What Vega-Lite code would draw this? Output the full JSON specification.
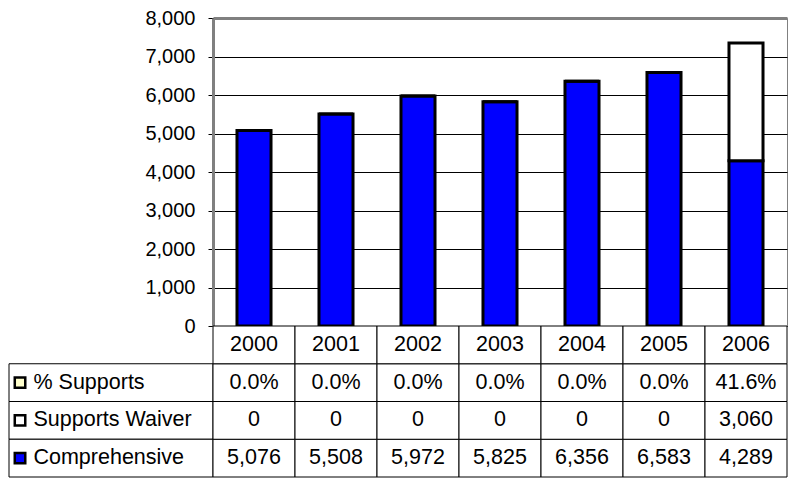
{
  "$schema": "https://vega.github.io/schema/vega-lite/v6.json",
  "padding": {"left": 8, "top": 7, "right": 2, "bottom": 2},
  "background": "white",
  "config": {"view": {"stroke": null}, "font": "Liberation Sans"},
  "datasets": {
    "table": [
      {"year": "2000", "series": "Comprehensive", "value": 5076},
      {"year": "2001", "series": "Comprehensive", "value": 5508},
      {"year": "2002", "series": "Comprehensive", "value": 5972},
      {"year": "2003", "series": "Comprehensive", "value": 5825},
      {"year": "2004", "series": "Comprehensive", "value": 6356},
      {"year": "2005", "series": "Comprehensive", "value": 6583},
      {"year": "2006", "series": "Comprehensive", "value": 4289},
      {"year": "2000", "series": "Supports Waiver", "value": 0},
      {"year": "2001", "series": "Supports Waiver", "value": 0},
      {"year": "2002", "series": "Supports Waiver", "value": 0},
      {"year": "2003", "series": "Supports Waiver", "value": 0},
      {"year": "2004", "series": "Supports Waiver", "value": 0},
      {"year": "2005", "series": "Supports Waiver", "value": 0},
      {"year": "2006", "series": "Supports Waiver", "value": 3060},
      {"year": "2000", "series": "% Supports", "value": 0},
      {"year": "2001", "series": "% Supports", "value": 0},
      {"year": "2002", "series": "% Supports", "value": 0},
      {"year": "2003", "series": "% Supports", "value": 0},
      {"year": "2004", "series": "% Supports", "value": 0},
      {"year": "2005", "series": "% Supports", "value": 0},
      {"year": "2006", "series": "% Supports", "value": 0.416}
    ],
    "series": [
      {"series": "% Supports"},
      {"series": "Supports Waiver"},
      {"series": "Comprehensive"}
    ]
  },
  "columns": 2,
  "spacing": 0,
  "bounds": "flush",
  "align": "each",
  "resolve": {"scale": {"x": "independent", "y": "independent", "color": "independent"}},
  "concat": [
    {
      "width": 204,
      "height": 308,
      "data": {"values": []},
      "mark": "text",
      "encoding": {}
    },
    {
      "width": 574,
      "height": 308,
      "view": {"stroke": "#808080", "strokeWidth": 1},
      "data": {"name": "table"},
      "transform": [{"filter": "datum.series !== '% Supports'"}],
      "mark": {"type": "bar", "stroke": "black", "strokeWidth": 3},
      "encoding": {
        "x": {
          "field": "year", "type": "nominal",
          "scale": {"paddingInner": 0.585, "paddingOuter": 0.2925},
          "axis": null
        },
        "y": {
          "field": "value", "type": "quantitative", "stack": "zero",
          "scale": {"domain": [0, 8000], "nice": false},
          "axis": {
            "title": null,
            "values": [0, 1000, 2000, 3000, 4000, 5000, 6000, 7000, 8000],
            "format": ",.0f",
            "labelFont": "Liberation Sans",
            "labelFontSize": 20,
            "labelColor": "black",
            "labelPadding": 13,
            "tickColor": "black",
            "tickSize": 5,
            "domainColor": "#808080",
            "domainWidth": 3,
            "grid": true,
            "gridColor": {"condition": {"test": "datum.value === 8000", "value": "#808080"}, "value": "black"},
            "gridWidth": {"condition": {"test": "datum.value === 8000", "value": 3}, "value": 1},
            "gridOpacity": 1
          }
        },
        "color": {
          "field": "series", "type": "nominal",
          "scale": {"domain": ["Comprehensive", "Supports Waiver"], "range": ["#0000FF", "#FFFFFF"]},
          "legend": null
        },
        "order": {"field": "series", "sort": "ascending"}
      }
    },
    {
      "width": 204,
      "height": 151,
      "data": {"name": "series"},
      "encoding": {
        "y": {
          "field": "series", "type": "nominal",
          "scale": {"domain": ["header", "% Supports", "Supports Waiver", "Comprehensive"], "paddingInner": 0, "paddingOuter": 0},
          "axis": null
        }
      },
      "layer": [
        {
          "mark": {"type": "rect", "fill": "white", "stroke": "black", "strokeWidth": 1},
          "encoding": {
            "x": {"datum": 0, "type": "quantitative", "scale": {"domain": [0, 1], "nice": false, "zero": false}, "axis": null},
            "x2": {"datum": 1}
          }
        },
        {
          "mark": {"type": "point", "shape": "square", "size": 110, "stroke": "black", "strokeWidth": 2.5, "filled": true, "opacity": 1},
          "encoding": {
            "x": {"datum": 0.054, "type": "quantitative"},
            "fill": {
              "field": "series", "type": "nominal",
              "scale": {"domain": ["% Supports", "Supports Waiver", "Comprehensive"], "range": ["#FFFFCC", "#FFFFFF", "#0000FF"]},
              "legend": null
            }
          }
        },
        {
          "mark": {"type": "text", "align": "left", "baseline": "middle", "font": "Liberation Sans", "fontSize": 21.5, "color": "black"},
          "encoding": {
            "x": {"datum": 0.12, "type": "quantitative"},
            "text": {"field": "series"}
          }
        }
      ]
    },
    {
      "width": 574,
      "height": 151,
      "data": {"name": "table"},
      "encoding": {
        "x": {
          "field": "year", "type": "nominal",
          "scale": {"paddingInner": 0, "paddingOuter": 0},
          "axis": null
        }
      },
      "layer": [
        {
          "mark": {"type": "rect", "fill": "white", "stroke": "black", "strokeWidth": 1},
          "encoding": {
            "y": {
              "field": "series", "type": "nominal",
              "scale": {"domain": ["header", "% Supports", "Supports Waiver", "Comprehensive"], "paddingInner": 0, "paddingOuter": 0},
              "axis": null
            }
          }
        },
        {
          "transform": [{"filter": "datum.series === 'Comprehensive'"}],
          "mark": {"type": "rect", "fill": "white", "stroke": "black", "strokeWidth": 1},
          "encoding": {
            "y": {"datum": "header", "type": "nominal"}
          }
        },
        {
          "transform": [{"filter": "datum.series === 'Comprehensive'"}],
          "mark": {"type": "text", "baseline": "middle", "font": "Liberation Sans", "fontSize": 21.5, "color": "black"},
          "encoding": {
            "y": {"datum": "header", "type": "nominal"},
            "text": {"field": "year"}
          }
        },
        {
          "transform": [{"filter": "datum.series === '% Supports'"}],
          "mark": {"type": "text", "baseline": "middle", "font": "Liberation Sans", "fontSize": 21.5, "color": "black"},
          "encoding": {
            "y": {"field": "series", "type": "nominal"},
            "text": {"field": "value", "type": "quantitative", "format": ".1%"}
          }
        },
        {
          "transform": [{"filter": "datum.series !== '% Supports'"}],
          "mark": {"type": "text", "baseline": "middle", "font": "Liberation Sans", "fontSize": 21.5, "color": "black"},
          "encoding": {
            "y": {"field": "series", "type": "nominal"},
            "text": {"field": "value", "type": "quantitative", "format": ","}
          }
        }
      ]
    }
  ]
}
